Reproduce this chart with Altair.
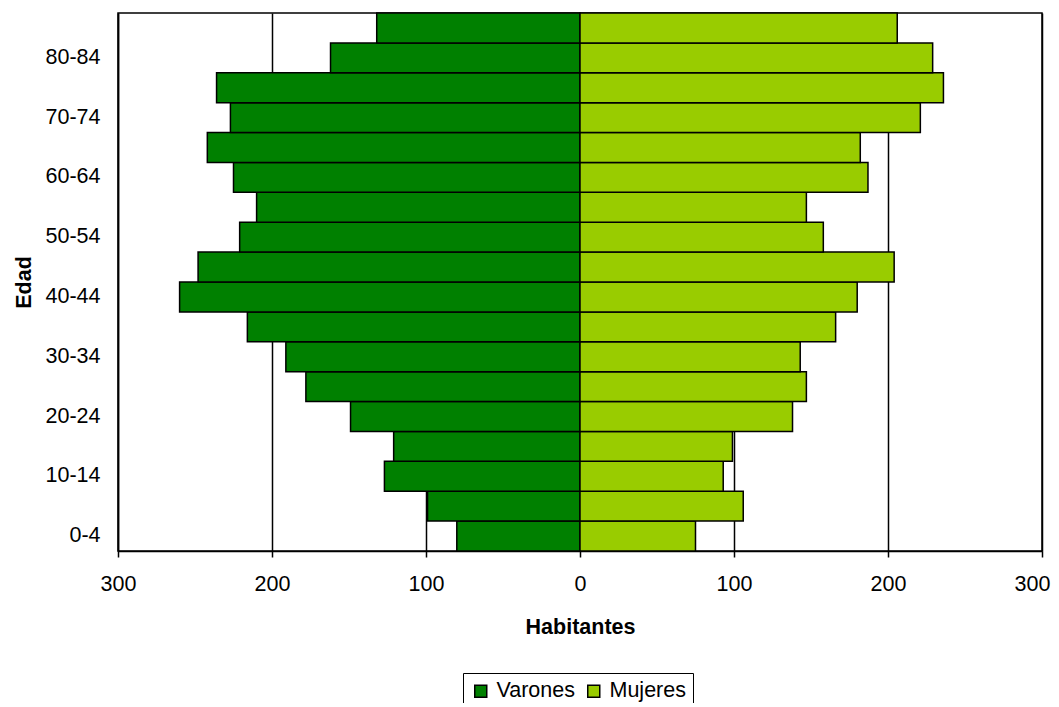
import altair as alt
import pandas as pd

ages = ["0-4", "5-9", "10-14", "15-19", "20-24", "25-29", "30-34", "35-39", "40-44",
        "45-49", "50-54", "55-59", "60-64", "65-69", "70-74", "75-79", "80-84", "85+"]
varones = [80, 99, 127, 121, 149, 178, 191, 216, 260, 248, 221, 210, 225, 242, 227, 236, 162, 132]
mujeres = [75, 106, 93, 99, 138, 147, 143, 166, 180, 204, 158, 147, 187, 182, 221, 236, 229, 206]
sexes = ["Varones", "Mujeres"]
colors = ["#008000", "#99CC00"]
x_ticks = [-300, -200, -100, 0, 100, 200, 300]
y_labels = ages[::2]

rows = []
for a, v, m in zip(ages, varones, mujeres):
    rows.append({"Edad": a, "Sexo": "Varones", "Habitantes": -v})
    rows.append({"Edad": a, "Sexo": "Mujeres", "Habitantes": m})
df = pd.DataFrame(rows)

FONT = "Liberation Sans"
FS = 21.5

chart = alt.Chart(df).mark_bar(stroke="black", strokeWidth=1.5).encode(
    x=alt.X("Habitantes:Q", stack=None,
            scale=alt.Scale(domain=[-300, 300], nice=False),
            axis=alt.Axis(values=x_ticks, labelExpr="abs(datum.value)",
                          grid=True, gridColor="black", gridWidth=1.5, gridOpacity=1,
                          tickColor="black", tickSize=6, tickWidth=1.5,
                          domainColor="black", domainWidth=1.5,
                          labelFont=FONT, labelFontSize=FS, labelColor="black",
                          labelPadding=16, labelFlush=False,
                          labelOffset=alt.condition("datum.value == 300", alt.value(-10), alt.value(0)),
                          title="Habitantes", titleFont=FONT, titleFontSize=FS,
                          titleFontWeight="bold", titleColor="black", titlePadding=22)),
    y=alt.Y("Edad:N", sort=ages[::-1],
            scale=alt.Scale(paddingInner=0, paddingOuter=0),
            axis=alt.Axis(values=y_labels, ticks=False, grid=False,
                          domainColor="black", domainWidth=1.5,
                          labelFont=FONT, labelFontSize=FS, labelColor="black",
                          labelPadding=18,
                          title="Edad", titleFont=FONT, titleFontSize=FS,
                          titleFontWeight="bold", titleColor="black", titlePadding=10)),
    color=alt.Color("Sexo:N", sort=sexes,
                    scale=alt.Scale(domain=sexes, range=colors),
                    legend=alt.Legend(title=None, orient="none", legendX=345, legendY=660,
                                      direction="horizontal", symbolType="square",
                                      symbolSize=144, symbolStrokeColor="black",
                                      symbolStrokeWidth=1.5, labelFont=FONT,
                                      labelFontSize=FS, labelColor="black",
                                      labelOffset=5, columnPadding=8, padding=7,
                                      strokeColor="black", fillColor="white")),
).properties(
    width=924, height=538,
    autosize=alt.AutoSizeParams(type="none"),
    padding={"left": 110, "top": 5, "right": 9, "bottom": 152},
).configure_view(stroke="black", strokeWidth=1.5)

chart.save("out.html", embed_options={"renderer": "svg", "actions": False})
